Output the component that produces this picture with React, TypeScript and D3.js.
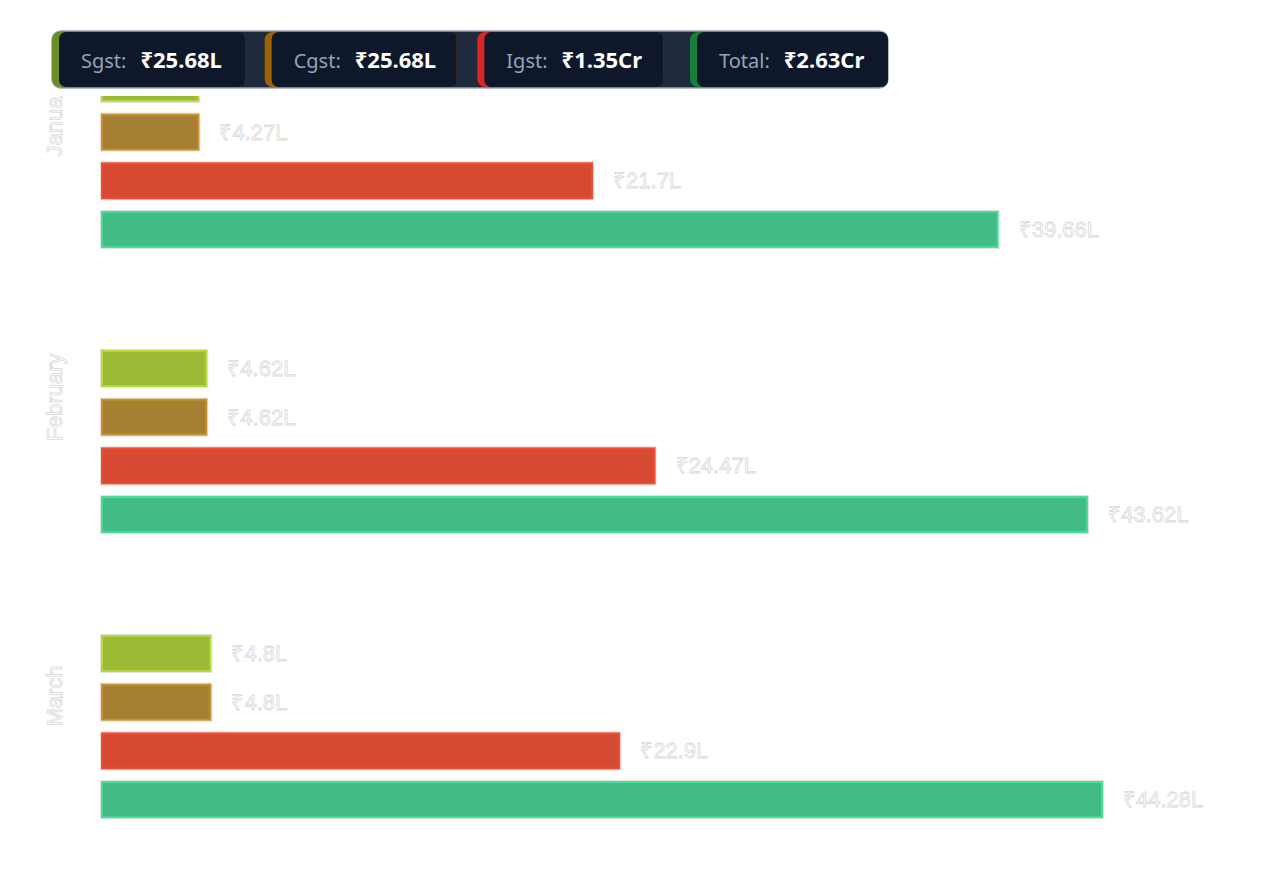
import React, { useEffect, useRef } from 'react';
import * as d3 from 'd3';

const months = ['January', 'February', 'March'];
const seriesKeys = ['Sgst', 'Cgst', 'Igst', 'Total'];

// values in lakh
const sgstValues = [4.27, 4.62, 4.8];
const cgstValues = [4.27, 4.62, 4.8];
const igstValues = [21.7, 24.47, 22.9];
const totalValues = [39.66, 43.62, 44.28];

const valueLabels = [
    ['₹4.27L', '₹4.27L', '₹21.7L', '₹39.66L'],
    ['₹4.62L', '₹4.62L', '₹24.47L', '₹43.62L'],
    ['₹4.8L', '₹4.8L', '₹22.9L', '₹44.28L'],
];

const legendLabels = ['Sgst:', 'Cgst:', 'Igst:', 'Total:'];
const legendValues = ['₹25.68L', '₹25.68L', '₹1.35Cr', '₹2.63Cr'];

const barFill = ['#9cb936', '#a68032', '#d64a34', '#41bc87'];
const barStroke = ['#b6d93a', '#c8922f', '#f24d30', '#48dc97'];
const legendStripe = ['#6b8e23', '#a16207', '#dc2626', '#15803d'];

const App: React.FC = () => {
    const chartRef = useRef<SVGSVGElement>(null);

    useEffect(() => {
        const svg = d3.select(chartRef.current);
        svg.selectAll("*").remove();

        const width = 1283;
        const height = 870;

        const rows = months.map((m, i) => ({
            month: m,
            values: [sgstValues[i], cgstValues[i], igstValues[i], totalValues[i]],
            labels: valueLabels[i],
        }));

        const x = d3.scaleLinear()
            .domain([0, d3.max(totalValues) as number])
            .range([102, 1102]);

        const y0 = d3.scaleBand<string>()
            .domain(months)
            .range([14, height - 1])
            .paddingInner(0.3165)
            .paddingOuter(0.158);

        const y1 = d3.scaleBand<string>()
            .domain(seriesKeys)
            .range([0, y0.bandwidth()])
            .paddingInner(0.28)
            .paddingOuter(0.14);

        const groups = svg.selectAll(".group")
            .data(rows)
            .enter().append("g")
            .attr("class", "group")
            .attr("transform", d => `translate(0, ${y0(d.month)})`);

        // month labels
        groups.append("text")
            .attr("transform", `translate(62, ${y0.bandwidth() / 2}) rotate(-90)`)
            .attr("text-anchor", "start")
            .style("font-family", "'Liberation Sans', Arial, sans-serif")
            .style("font-size", "22px")
            .attr("fill", "#ffffff")
            .attr("stroke", "#d9d9d9")
            .attr("stroke-width", 0.8)
            .text(d => d.month);

        const bars = groups.selectAll(".bar")
            .data(d => d.values.map((v, j) => ({ key: seriesKeys[j], value: v, label: d.labels[j], idx: j })))
            .enter().append("g")
            .attr("class", "bar");

        bars.append("rect")
            .attr("x", x(0) - 1.5)
            .attr("y", d => (y1(d.key) as number) - 1.5)
            .attr("width", d => x(d.value) - x(0) + 3)
            .attr("height", y1.bandwidth() + 3)
            .attr("fill", "none")
            .attr("stroke", "#e2e2e2")
            .attr("stroke-width", 1);

        bars.append("rect")
            .attr("x", x(0))
            .attr("y", d => y1(d.key) as number)
            .attr("width", d => x(d.value) - x(0))
            .attr("height", y1.bandwidth())
            .attr("fill", d => barFill[d.idx])
            .attr("stroke", d => barStroke[d.idx])
            .attr("stroke-width", 2);

        bars.append("text")
            .attr("x", d => x(d.value) + 21)
            .attr("y", d => (y1(d.key) as number) + y1.bandwidth() / 2)
            .attr("dominant-baseline", "central")
            .style("font-family", "'Liberation Sans', Arial, sans-serif")
            .style("font-size", "22px")
            .attr("fill", "#ffffff")
            .attr("stroke", "#d9d9d9")
            .attr("stroke-width", 0.8)
            .text(d => d.label);

        // white strip behind the legend hides the top of the chart
        svg.append("rect")
            .attr("x", 0).attr("y", 0)
            .attr("width", width).attr("height", 96)
            .attr("fill", "#ffffff");

        // legend panel on top
        const legend = svg.append("g");
        const lx = 52, ly = 31, lw = 836, lh = 57;
        legend.append("rect")
            .attr("x", lx).attr("y", ly)
            .attr("width", lw).attr("height", lh)
            .attr("rx", 9)
            .attr("fill", "#1e293b")
            .attr("stroke", "#9aa3b2")
            .attr("stroke-width", 1.5);

        const itemX = d3.scalePoint<string>()
            .domain(seriesKeys)
            .range([lx, 690]);
        const itemW = [193, 192, 186, 198];

        seriesKeys.forEach((k, i) => {
            const ix = itemX(k) as number;
            const item = legend.append("g");
            item.append("rect")
                .attr("x", ix).attr("y", ly + 1)
                .attr("width", itemW[i]).attr("height", lh - 2)
                .attr("rx", 8)
                .attr("fill", legendStripe[i]);
            item.append("rect")
                .attr("x", ix + 7).attr("y", ly + 1)
                .attr("width", itemW[i] - 7).attr("height", lh - 2)
                .attr("rx", 7)
                .attr("fill", "#0f172a");
            const lab = item.append("text")
                .attr("x", ix + 29)
                .attr("y", ly + lh / 2 + 8)
                .style("font-family", "'Noto Sans', sans-serif")
                .style("font-size", "20px")
                .attr("fill", "#94a3b8")
                .text(legendLabels[i]);
            const labW = (lab.node() as SVGTextElement).getComputedTextLength();
            item.append("text")
                .attr("x", ix + 29 + labW + 14)
                .attr("y", ly + lh / 2 + 8)
                .style("font-family", "'Noto Sans', sans-serif")
                .style("font-size", "22px")
                .style("font-weight", "700")
                .attr("fill", "#ffffff")
                .text(legendValues[i]);
        });
    }, []);

    return (
        <div style={{ position: 'absolute', left: 0, top: 0 }}>
            <svg ref={chartRef} width="1283" height="870" style={{ display: 'block' }}></svg>
        </div>
    );
};

export default App;
